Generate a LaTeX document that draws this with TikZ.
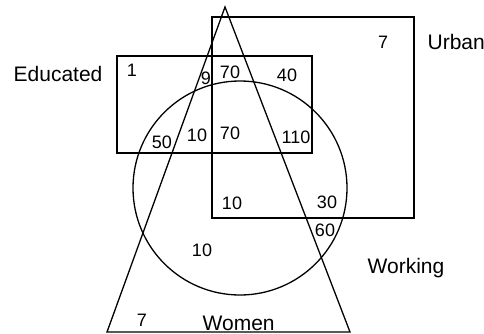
\documentclass[tikz,border=0pt]{standalone}
\usepackage{fontspec}
\setmainfont{Liberation Sans}

\begin{document}
\begin{tikzpicture}[x=1pt, y=-1pt, line width=1.3pt,
        num/.style={inner sep=0pt, font=\fontsize{18}{20}\selectfont},
        setname/.style={inner sep=0pt, anchor=west, font=\fontsize{21}{24}\selectfont}]
    \useasboundingbox (0,0) rectangle (484,334);
    % the four sets
    \coordinate (edu1) at (117,56);
    \coordinate (edu2) at (312,153);
    \coordinate (urb1) at (212,17);
    \coordinate (urb2) at (414,218);
    \coordinate (work) at (240,188);
    \coordinate (apex) at (225,7);
    \coordinate (wl) at (107,332);
    \coordinate (wr) at (350,332);
    \draw (edu1) rectangle (edu2);
    \draw (urb1) rectangle (urb2);
    \draw (work) circle [radius=107pt];
    \draw (apex) -- (wl) -- (wr) -- cycle;
    % names of the sets
    \node[setname] (educated) at (13,74) {Educated};
    \node[setname] (urban) at (427,42) {Urban};
    \node[setname] (working) at (367,268) {Working};
    \node[setname] (women) at (202,323) {Women};
    % numbers
    \node[num] (n1) at (132,70) {1};
    \node[num] (n9) at (206,78) {9};
    \node[num] (n70a) at (230,72) {70};
    \node[num] (n40) at (287,75) {40};
    \node[num] (n7a) at (383,42) {7};
    \node[num] (n50) at (162,142) {50};
    \node[num] (n10a) at (197,135) {10};
    \node[num] (n70b) at (230,133) {70};
    \node[num] (n110) at (296,137) {110};
    \node[num] (n10b) at (232,203) {10};
    \node[num] (n30) at (327,202) {30};
    \node[num] (n60) at (325,230) {60};
    \node[num] (n10c) at (202,250) {10};
    \node[num] (n7b) at (142,320) {7};
\end{tikzpicture}
\end{document}
